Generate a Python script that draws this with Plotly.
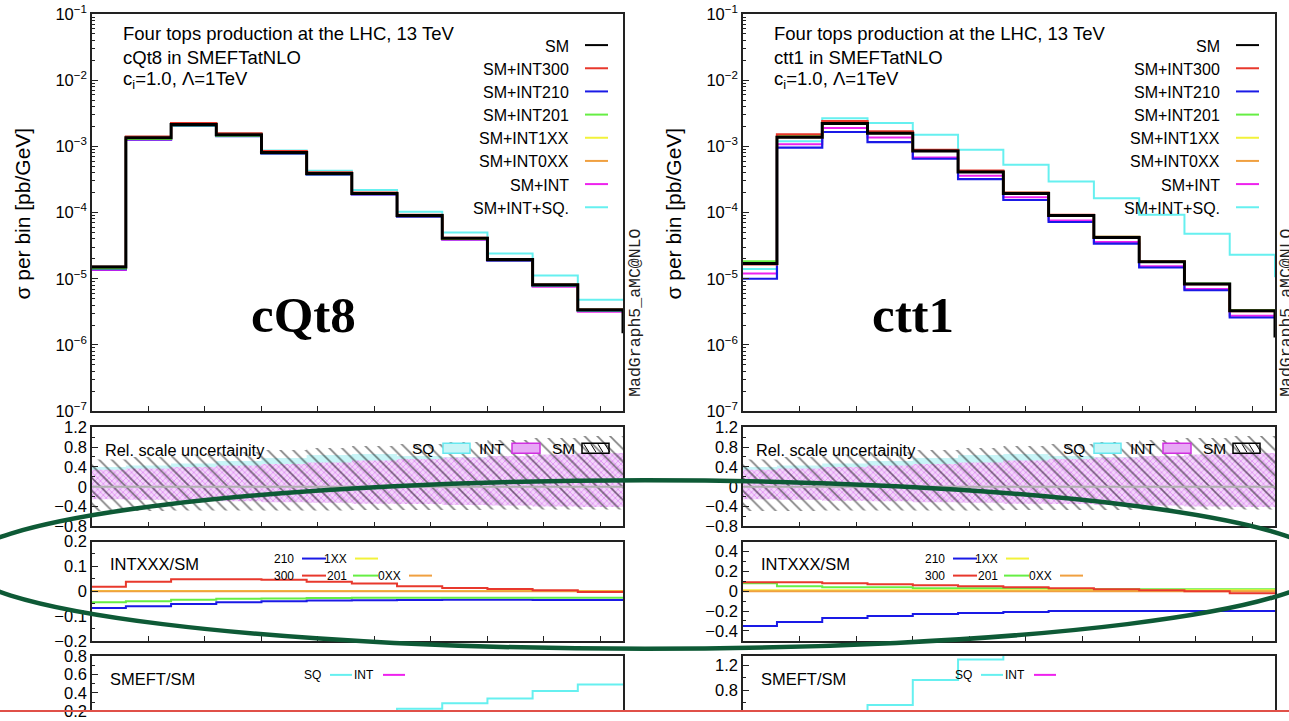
import plotly.graph_objects as go

W, H = 1289, 721

# ---------------- data ----------------
EDGES = [0, 150, 350, 550, 750, 950, 1150, 1350, 1550, 1750, 1950, 2150, 2350]
XTICKS = [250, 500, 750, 1000, 1250, 1500, 1750, 2000, 2250]
LOG_TICKS = [1e-7, 1e-6, 1e-5, 1e-4, 1e-3, 1e-2, 1e-1]
LOG_TEXT = ["10<sup>−7</sup>", "10<sup>−6</sup>", "10<sup>−5</sup>", "10<sup>−4</sup>",
            "10<sup>−3</sup>", "10<sup>−2</sup>", "10<sup>−1</sup>"]
MAIN_LEGEND = ["SM", "SM+INT300", "SM+INT210", "SM+INT201", "SM+INT1XX", "SM+INT0XX", "SM+INT", "SM+INT+SQ."]

# cQt8 (left)
L_SM = [1.50e-5, 1.35e-3, 2.15e-3, 1.50e-3, 8.1e-4, 3.9e-4, 1.95e-4, 9.0e-5, 4.1e-5, 1.95e-5, 8.1e-6, 3.4e-6]
L_300 = [1.53e-5, 1.40e-3, 2.25e-3, 1.57e-3, 8.5e-4, 4.05e-4, 2.01e-4, 9.2e-5, 4.15e-5, 1.97e-5, 8.1e-6, 3.39e-6]
L_210 = [1.40e-5, 1.27e-3, 2.04e-3, 1.43e-3, 7.8e-4, 3.75e-4, 1.88e-4, 8.7e-5, 3.96e-5, 1.88e-5, 7.8e-6, 3.28e-6]
L_201 = [1.43e-5, 1.29e-3, 2.07e-3, 1.45e-3, 7.9e-4, 3.79e-4, 1.90e-4, 8.8e-5, 4.0e-5, 1.90e-5, 7.9e-6, 3.31e-6]
L_1XX = [1.50e-5, 1.35e-3, 2.15e-3, 1.50e-3, 8.1e-4, 3.9e-4, 1.95e-4, 9.0e-5, 4.1e-5, 1.95e-5, 8.1e-6, 3.4e-6]
L_0XX = [1.50e-5, 1.35e-3, 2.15e-3, 1.50e-3, 8.1e-4, 3.9e-4, 1.95e-4, 9.0e-5, 4.1e-5, 1.95e-5, 8.1e-6, 3.4e-6]
L_INT = [1.36e-5, 1.26e-3, 2.07e-3, 1.46e-3, 7.9e-4, 3.79e-4, 1.89e-4, 8.6e-5, 3.9e-5, 1.85e-5, 7.6e-6, 3.18e-6]
L_SQ = [1.55e-5, 1.40e-3, 2.25e-3, 1.58e-3, 8.7e-4, 4.3e-4, 2.2e-4, 1.03e-4, 5.0e-5, 2.4e-5, 1.12e-5, 4.8e-6]
L_SM_TAIL = 1.5e-6

L_R300 = [0.018, 0.038, 0.048, 0.048, 0.046, 0.038, 0.031, 0.020, 0.013, 0.009, 0.004, -0.003]
L_R210 = [-0.068, -0.061, -0.052, -0.045, -0.041, -0.038, -0.037, -0.036, -0.035, -0.035, -0.036, -0.036]
L_R201 = [-0.045, -0.041, -0.035, -0.031, -0.030, -0.028, -0.027, -0.027, -0.027, -0.027, -0.027, -0.027]
L_R1XX = [0.001, 0.001, 0.001, 0.001, 0.001, 0.001, 0.001, 0.001, 0.001, 0.001, 0.001, 0.001]
L_R0XX = [0.0, 0.0, 0.0, 0.0, 0.0, 0.0, 0.0, 0.0, 0.0, 0.0, 0.0, 0.0]

L_SMEFT_SQ = [0.03, 0.04, 0.05, 0.07, 0.10, 0.133, 0.18, 0.23, 0.29, 0.34, 0.42, 0.49]
L_SMEFT_INT = [-0.09, -0.067, -0.037, -0.027, -0.025, -0.028, -0.031, -0.044, -0.049, -0.051, -0.062, -0.065]

L_BAND_SM_UP = [0.55, 0.60, 0.65, 0.70, 0.74, 0.78, 0.82, 0.86, 0.90, 0.94, 0.98, 1.02]
L_BAND_SM_DN = [-0.49, -0.49, -0.48, -0.48, -0.48, -0.48, -0.47, -0.47, -0.47, -0.46, -0.46, -0.46]
L_BAND_INT_UP = [0.34, 0.37, 0.40, 0.43, 0.46, 0.49, 0.53, 0.56, 0.59, 0.62, 0.65, 0.68]
L_BAND_INT_DN = [-0.25, -0.26, -0.28, -0.29, -0.31, -0.32, -0.34, -0.35, -0.37, -0.38, -0.40, -0.41]
L_BAND_SQ_UP = [0.40, 0.43, 0.47, 0.52, 0.58, 0.64, 0.66, 0.62, 0.60, 0.62, 0.64, 0.66]
L_BAND_SQ_DN = [-0.23, -0.24, -0.26, -0.27, -0.29, -0.30, -0.32, -0.33, -0.35, -0.36, -0.38, -0.39]

# ctt1 (right)
R_SM = [1.7e-5, 1.38e-3, 2.22e-3, 1.58e-3, 8.5e-4, 4.1e-4, 1.95e-4, 9.0e-5, 4.2e-5, 1.8e-5, 8.3e-6, 3.3e-6]
R_300 = [1.65e-5, 1.52e-3, 2.40e-3, 1.68e-3, 8.9e-4, 4.3e-4, 2.0e-4, 9.2e-5, 4.3e-5, 1.82e-5, 8.3e-6, 3.25e-6]
R_210 = [1.0e-5, 9.6e-4, 1.65e-3, 1.16e-3, 6.5e-4, 3.2e-4, 1.55e-4, 7.2e-5, 3.4e-5, 1.48e-5, 6.7e-6, 2.6e-6]
R_201 = [1.84e-5, 1.45e-3, 2.31e-3, 1.64e-3, 8.8e-4, 4.2e-4, 2.0e-4, 9.2e-5, 4.3e-5, 1.84e-5, 8.5e-6, 3.37e-6]
R_1XX = [1.72e-5, 1.39e-3, 2.24e-3, 1.59e-3, 8.6e-4, 4.1e-4, 1.96e-4, 9.0e-5, 4.2e-5, 1.8e-5, 8.3e-6, 3.3e-6]
R_0XX = [1.7e-5, 1.38e-3, 2.22e-3, 1.58e-3, 8.5e-4, 4.1e-4, 1.95e-4, 9.0e-5, 4.2e-5, 1.8e-5, 8.3e-6, 3.3e-6]
R_INT = [1.2e-5, 1.08e-3, 1.90e-3, 1.36e-3, 6.8e-4, 3.6e-4, 1.7e-4, 7.6e-5, 3.6e-5, 1.55e-5, 7.0e-6, 2.75e-6]
R_SQ = [1.4e-5, 1.2e-3, 2.65e-3, 2.25e-3, 1.5e-3, 8.9e-4, 5.3e-4, 2.95e-4, 1.65e-4, 9.3e-5, 4.8e-5, 2.3e-5]
R_SM_TAIL = 1.3e-6
R_SQ_TAIL = 1.05e-5

R_R300 = [0.09, 0.09, 0.08, 0.07, 0.06, 0.05, 0.04, 0.03, 0.02, 0.01, 0.0, -0.02]
R_R210 = [-0.35, -0.31, -0.27, -0.25, -0.23, -0.22, -0.21, -0.20, -0.20, -0.20, -0.20, -0.20]
R_R201 = [0.08, 0.05, 0.04, 0.04, 0.03, 0.03, 0.03, 0.02, 0.02, 0.02, 0.02, 0.02]
R_R1XX = [0.01, 0.01, 0.01, 0.01, 0.01, 0.01, 0.01, 0.01, 0.01, 0.01, 0.01, 0.01]
R_R0XX = [0.0, 0.0, 0.0, 0.0, 0.0, 0.0, 0.0, 0.0, 0.0, 0.0, 0.0, 0.0]

R_SMEFT_SQ = [0.12, 0.09, 0.34, 0.56, 0.96, 1.29, 1.85, 2.9, 3.7, 4.3, 4.9, 7.5]
R_SMEFT_INT = [-0.29, -0.22, -0.14, -0.14, -0.2, -0.12, -0.13, -0.16, -0.14, -0.14, -0.16, -0.17]

R_BAND_SM_UP = [0.55, 0.60, 0.65, 0.70, 0.74, 0.78, 0.82, 0.86, 0.90, 0.94, 0.98, 1.02]
R_BAND_SM_DN = [-0.49, -0.49, -0.48, -0.48, -0.48, -0.48, -0.47, -0.47, -0.47, -0.46, -0.46, -0.46]
R_BAND_INT_UP = [0.34, 0.37, 0.40, 0.43, 0.46, 0.49, 0.53, 0.56, 0.59, 0.62, 0.65, 0.68]
R_BAND_INT_DN = [-0.25, -0.26, -0.28, -0.29, -0.31, -0.32, -0.34, -0.35, -0.37, -0.38, -0.40, -0.41]
R_BAND_SQ_UP = [0.40, 0.43, 0.47, 0.52, 0.58, 0.64, 0.66, 0.62, 0.60, 0.62, 0.64, 0.66]
R_BAND_SQ_DN = [-0.23, -0.24, -0.26, -0.27, -0.29, -0.30, -0.32, -0.33, -0.35, -0.36, -0.38, -0.39]

# ---------------- style ----------------
FONT = "Liberation Sans"
C_SM, C_300, C_210, C_201 = "#000000", "#e8382c", "#1a1ae6", "#66ee44"
C_1XX, C_0XX, C_INT, C_SQ = "#f2f23a", "#f0a040", "#ee22ee", "#66f0f0"
AX = "#222222"

# the photo maps page row y to 11 + 0.9695*y; layout positions below are photo rows
V_OFF, V_SCALE = 11.0, 0.9695


def px(x):
    return x / W


def py(y):
    yf = (y - V_OFF) / V_SCALE
    return 1 - yf / H


def step(vals, tail=None):
    xs = list(EDGES)
    ys = list(vals) + [vals[-1]]
    if tail is not None:
        xs.append(EDGES[-1])
        ys.append(tail)
    return xs, ys


fig = go.Figure()

XL = [px(92), px(623)]
XR = [px(743), px(1275)]
YD = {"main": [py(410), py(14)], "rel": [py(525), py(426)],
      "int": [py(639), py(540)], "smeft": [0, py(654)]}
SMEFT_BOTTOM = V_OFF + V_SCALE * H  # photo row of the page bottom


def add_line(vals, color, width, ax, tail=None):
    xs, ys = step(vals, tail)
    fig.add_trace(go.Scatter(x=xs, y=ys, mode="lines", line=dict(color=color, width=width, shape="hv"),
                             xaxis="x" + ax, yaxis="y" + ax, showlegend=False, hoverinfo="skip"))


def add_band(up, dn, ax, fillcolor=None, pattern=None):
    xs, yd = step(dn)
    _, yu = step(up)
    fig.add_trace(go.Scatter(x=xs, y=yd, mode="lines", line=dict(width=0, shape="hv"),
                             xaxis="x" + ax, yaxis="y" + ax, showlegend=False, hoverinfo="skip"))
    kw = dict(x=xs, y=yu, mode="lines", line=dict(width=0, shape="hv"), fill="tonexty",
              xaxis="x" + ax, yaxis="y" + ax, showlegend=False, hoverinfo="skip")
    if fillcolor:
        kw["fillcolor"] = fillcolor
    if pattern:
        kw["fillpattern"] = pattern
    fig.add_trace(go.Scatter(**kw))


HATCH = dict(shape="\\", fgcolor="#000000", bgcolor="rgba(0,0,0,0)", size=9, solidity=0.18)
XHATCH = dict(shape="x", fgcolor="#cc44ee", bgcolor="#f3d6fa", size=4, solidity=0.35)

panels = [
    ("", "2", "3", "4", L_SM, L_300, L_210, L_201, L_1XX, L_0XX, L_INT, L_SQ, L_SM_TAIL, None,
     L_R300, L_R210, L_R201, L_R1XX, L_R0XX, L_SMEFT_SQ, L_SMEFT_INT,
     L_BAND_SM_UP, L_BAND_SM_DN, L_BAND_INT_UP, L_BAND_INT_DN, L_BAND_SQ_UP, L_BAND_SQ_DN),
    ("5", "6", "7", "8", R_SM, R_300, R_210, R_201, R_1XX, R_0XX, R_INT, R_SQ, R_SM_TAIL, R_SQ_TAIL,
     R_R300, R_R210, R_R201, R_R1XX, R_R0XX, R_SMEFT_SQ, R_SMEFT_INT,
     R_BAND_SM_UP, R_BAND_SM_DN, R_BAND_INT_UP, R_BAND_INT_DN, R_BAND_SQ_UP, R_BAND_SQ_DN),
]

for (a1, a2, a3, a4, sm, s300, s210, s201, s1xx, s0xx, sint, ssq, smtail, sqtail,
     r300, r210, r201, r1xx, r0xx, msq, mint, bsu, bsd, biu, bid, bqu, bqd) in panels:
    add_line(ssq, C_SQ, 2, a1, sqtail)
    add_line(sint, C_INT, 2, a1)
    add_line(s210, C_210, 2.2, a1)
    add_line(s201, C_201, 2, a1)
    add_line(s1xx, C_1XX, 2, a1)
    add_line(s0xx, C_0XX, 2, a1)
    add_line(s300, C_300, 2.2, a1)
    add_line(sm, C_SM, 3, a1, smtail)
    add_band(bqu, bqd, a2, fillcolor="#c8f5f7")
    add_band(biu, bid, a2, fillcolor="#f3d6fa", pattern=XHATCH)
    add_band(bsu, bsd, a2, fillcolor="rgba(0,0,0,0)", pattern=HATCH)
    add_line(r210, C_210, 2, a3)
    add_line(r201, C_201, 2, a3)
    add_line(r1xx, C_1XX, 2, a3)
    add_line(r0xx, C_0XX, 2, a3)
    add_line(r300, C_300, 2, a3)
    add_line(mint, C_INT, 2, a4)
    add_line(msq, C_SQ, 2, a4)


def xaxis(dom, anchor, top=False):
    d = dict(domain=dom, anchor=anchor, range=[0, 2350], showticklabels=False,
             tickmode="array", tickvals=XTICKS, ticks="" if top else "inside", ticklen=5,
             tickcolor=AX, tickwidth=1, showline=True, linecolor=AX, linewidth=1.5,
             mirror=not top, showgrid=False, zeroline=False)
    if top:
        d["side"] = "top"
    return d


def yaxis(dom, anchor, rng, tv, tt, minor_dtick, log=False):
    d = dict(domain=dom, anchor=anchor, range=rng, tickmode="array", tickvals=tv, ticktext=tt,
             ticks="inside", ticklen=6, tickwidth=1, tickcolor=AX, showline=True, linecolor=AX,
             linewidth=1.5, mirror=True, showgrid=False, zeroline=False, ticklabeloverflow="allow",
             tickfont=dict(family=FONT, size=16.5, color="#000"),
             minor=dict(ticks="inside", ticklen=3, tickcolor=AX, dtick=minor_dtick, showgrid=False))
    if log:
        d["type"] = "log"
    return d


# lower panels: keep the reference's value-per-row scale while the visible bottom is clipped
L_SMEFT_RANGE = [0.8 - (SMEFT_BOTTOM - 654) / 92.5, 0.8]
R_SMEFT_RANGE = [1.35 - (SMEFT_BOTTOM - 654) / 62.0, 1.35]

lay = {}
for xd, names in ((XL, ("", "2", "3", "4")), (XR, ("5", "6", "7", "8"))):
    m, r, i, s = names
    lay["xaxis" + m] = xaxis(xd, "y" + m)
    lay["xaxis" + r] = xaxis(xd, "y" + r)
    lay["xaxis" + i] = xaxis(xd, "y" + i)
    lay["xaxis" + s] = xaxis(xd, "y" + s, top=True)
    lay["yaxis" + m] = yaxis(YD["main"], "x" + m, [-7, -1], LOG_TICKS, LOG_TEXT, "D1", log=True)
    lay["yaxis" + r] = yaxis(YD["rel"], "x" + r, [-0.8, 1.2], [-0.8, -0.4, 0, 0.4, 0.8, 1.2],
                             ["−0.8", "−0.4", "0", "0.4", "0.8", "1.2"], 0.2)

lay["yaxis3"] = yaxis(YD["int"], "x3", [-0.2, 0.2], [-0.2, -0.1, 0, 0.1, 0.2],
                      ["−0.2", "−0.1", "0", "0.1", "0.2"], 0.05)
lay["yaxis7"] = yaxis(YD["int"], "x7", [-0.5, 0.5], [-0.4, -0.2, 0, 0.2, 0.4],
                      ["−0.4", "−0.2", "0", "0.2", "0.4"], 0.1)
lay["yaxis4"] = yaxis(YD["smeft"], "x4", L_SMEFT_RANGE, [0.2, 0.4, 0.6, 0.8],
                      ["0.2", "0.4", "0.6", "0.8"], 0.1)
lay["yaxis8"] = yaxis(YD["smeft"], "x8", R_SMEFT_RANGE, [0.4, 0.8, 1.2],
                      ["0.4", "0.8", "1.2"], 0.2)

# ---------------- decorations ----------------
ann = []
shapes = []


def text(x, y, s, size=16, anchor="left", **kw):
    d = dict(x=px(x), y=py(y), xref="paper", yref="paper", text=s, showarrow=False,
             xanchor=anchor, yanchor="middle", font=dict(family=FONT, size=size, color="#000"))
    d.update(kw)
    ann.append(d)


def hline(x0, x1, y, color, width=2):
    shapes.append(dict(type="line", xref="paper", yref="paper", x0=px(x0), x1=px(x1),
                       y0=py(y), y1=py(y), line=dict(color=color, width=width)))


LEG_COLORS = [C_SM, C_300, C_210, C_201, C_1XX, C_0XX, C_INT, C_SQ]

for off, name, bigx in ((0, "cQt8", 303), (651, "ctt1", 913)):
    text(121 + off, 33, "Four tops production at the LHC, 13 TeV", size=18.5)
    text(121 + off, 57, name + " in SMEFTatNLO", size=18.5)
    text(121 + off, 80, "c<sub>i</sub>=1.0, Λ=1TeV", size=18.5)
    for k, (lab, col) in enumerate(zip(MAIN_LEGEND, LEG_COLORS)):
        yy = 46 + 23.1 * k
        text(571 + off, yy, lab, anchor="right")
        hline(585 + off, 608 + off, yy - 1, col, 2)
    text(23 + off, 213, "σ per bin [pb/GeV]", size=21, anchor="center", textangle=-90)
    text(bigx, 314, "<b>" + name + "</b>", anchor="center",
         font=dict(family="Liberation Serif", size=51, color="#000"))
    text(636 + off, 312, "MadGraph5_aMC@NLO", anchor="center", textangle=-90,
         font=dict(family="Liberation Mono", size=16.5, color="#222"))
    text(103 + off, 449, "Rel. scale uncertainity", size=16.3)
    text(436 + off, 447, "SQ", size=15.5, anchor="right")
    text(507 + off, 447, "INT", size=15.5, anchor="right")
    text(577 + off, 447, "SM", size=15.5, anchor="right")
    shapes.append(dict(type="rect", xref="paper", yref="paper", x0=px(443 + off), x1=px(470 + off),
                       y0=py(452), y1=py(442), line=dict(color="#66e8f0", width=1.5), fillcolor="#c8f5f7"))
    shapes.append(dict(type="rect", xref="paper", yref="paper", x0=px(512 + off), x1=px(540 + off),
                       y0=py(452), y1=py(442), line=dict(color="#d030e0", width=1.5), fillcolor="#e8a8f6"))
    shapes.append(dict(type="rect", xref="paper", yref="paper", x0=px(582 + off), x1=px(609 + off),
                       y0=py(452), y1=py(442), line=dict(color="#000", width=1.5), fillcolor="rgba(255,255,255,0)"))
    for hx in (584, 591, 598, 605):
        shapes.append(dict(type="line", xref="paper", yref="paper", x0=px(hx + off), x1=px(hx + 5 + off),
                           y0=py(443), y1=py(451), line=dict(color="#000", width=1)))
    text(108 + off, 562, "INTXXX/SM", size=16.5)
    text(296 + off, 557, "210", size=12, anchor="right")
    hline(302 + off, 326 + off, 557, C_210)
    text(349 + off, 557, "1XX", size=12, anchor="right")
    hline(355 + off, 378 + off, 557, C_1XX)
    text(296 + off, 574, "300", size=12, anchor="right")
    hline(302 + off, 326 + off, 574, C_300)
    text(349 + off, 574, "201", size=12, anchor="right")
    hline(353 + off, 378 + off, 574, C_201)
    text(403 + off, 574, "0XX", size=12, anchor="right")
    hline(409 + off, 432 + off, 574, C_0XX)
    text(108 + off, 677, "SMEFT/SM", size=16.5)
    text(323 + off, 673, "SQ", size=12, anchor="right")
    hline(330 + off, 352 + off, 673, C_SQ)
    text(376 + off, 673, "INT", size=12, anchor="right")
    hline(383 + off, 405 + off, 673, C_INT)

for ax in ("2", "6"):
    shapes.append(dict(type="line", xref="x" + ax + " domain", yref="y" + ax, x0=0, x1=1, y0=0, y1=0,
                       line=dict(color="#b0b0b0", width=2)))

shapes.append(dict(type="circle", xref="paper", yref="paper", x0=px(-37), x1=px(1327),
                   y0=py(647), y1=py(479), line=dict(color="#0e5a36", width=4.5)))
shapes.append(dict(type="line", xref="paper", yref="paper", x0=0, x1=1, y0=0.0015, y1=0.0015,
                   line=dict(color="#e05048", width=2)))

fig.update_layout(**lay)
fig.update_layout(width=W, height=H, margin=dict(l=0, r=0, t=0, b=0),
                  paper_bgcolor="white", plot_bgcolor="rgba(0,0,0,0)",
                  showlegend=False, annotations=ann, shapes=shapes,
                  font=dict(family=FONT, size=16, color="#000"))
fig.write_html("out.html")
